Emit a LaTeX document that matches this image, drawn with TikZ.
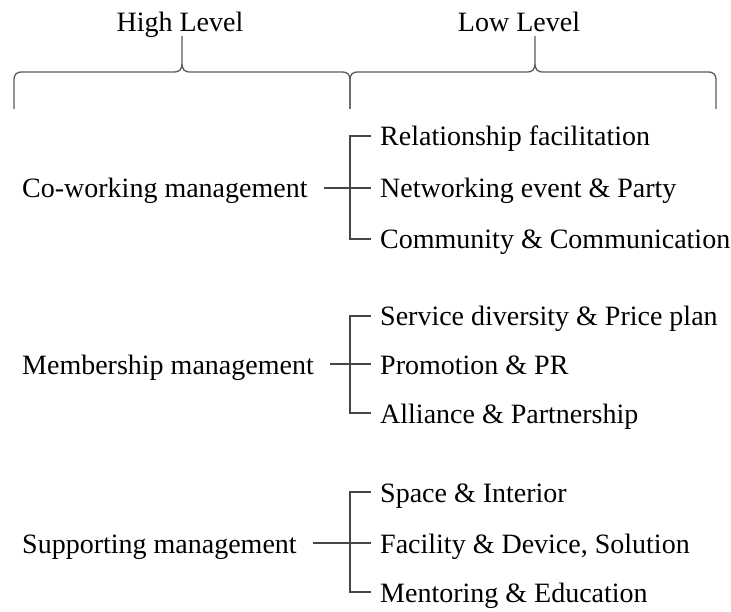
\documentclass[tikz,border=0pt]{standalone}
\usepackage{fontspec}
\setmainfont{Liberation Serif}
\begin{document}
\begin{tikzpicture}[x=1pt,y=-1pt,
  lbl/.style={inner sep=0pt,font=\fontsize{28}{33}\selectfont,anchor=base west},
  head/.style={inner sep=0pt,font=\fontsize{28}{33}\selectfont,anchor=base},
  brk/.style={draw={rgb,255:red,90;green,90;blue,90},line width=1.3pt},
  lnk/.style={draw={rgb,255:red,70;green,70;blue,70},line width=1.1pt}]
\useasboundingbox (0,0) rectangle (731,612);

% column headings
\node[head] (hh) at (180,32) {High Level};
\node[head] (lh) at (519,32) {Low Level};

% braces under the headings
\coordinate (htip) at (182,36);
\coordinate (ltip) at (535,36);
\path[brk] (14,109) -- (14,81) .. controls (14,74) and (16,72) .. (23,72)
  -- (173,72) .. controls (180,72) and (182,70) .. (182,62) -- (htip)
  (182,62) .. controls (182,70) and (184,72) .. (191,72)
  -- (341,72) .. controls (348,72) and (350,74) .. (350,81) -- (350,109);
\path[brk] (350,109) -- (350,81) .. controls (350,74) and (352,72) .. (359,72)
  -- (526,72) .. controls (533,72) and (535,70) .. (535,62) -- (ltip)
  (535,62) .. controls (535,70) and (537,72) .. (544,72)
  -- (707,72) .. controls (714,72) and (716,74) .. (716,81) -- (716,109);

% high level items
\node[lbl] (cw) at (22,198) {Co-working management};
\node[lbl] (ms) at (22,374) {Membership management};
\node[lbl] (sp) at (22,553) {Supporting management};

% low level items
\node[lbl] (a1) at (380,146) {Relationship facilitation};
\node[lbl] (a2) at (380,198) {Networking event \& Party};
\node[lbl] (a3) at (380,249) {Community \& Communication};
\node[lbl] (b1) at (380,326) {Service diversity \& Price plan};
\node[lbl] (b2) at (380,374) {Promotion \& PR};
\node[lbl] (b3) at (380,423) {Alliance \& Partnership};
\node[lbl] (c1) at (380,502) {Space \& Interior};
\node[lbl] (c2) at (380,553) {Facility \& Device, Solution};
\node[lbl] (c3) at (380,602) {Mentoring \& Education};

% bracket connectors
\coordinate (cwa) at (324,188);
\coordinate (msa) at (330,364);
\coordinate (spa) at (313,543);
\foreach \s/\ya/\yb/\yc in {cwa/136/188/239, msa/316/364/413, spa/492/543/592}{
  \path[lnk] (371,\ya) -- (350,\ya) -- (350,\yc) -- (371,\yc);
  \path[lnk] (\s) -- (371,\yb);
}
\end{tikzpicture}
\end{document}
